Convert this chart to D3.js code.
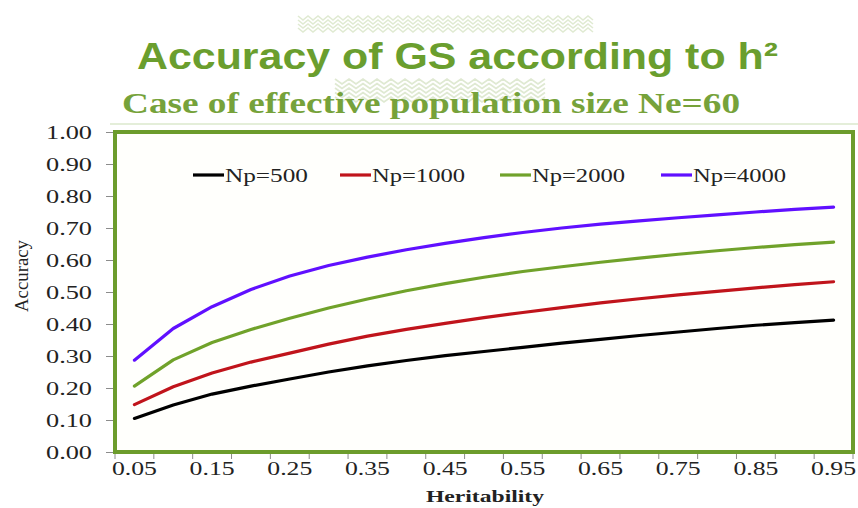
<!DOCTYPE html>
<html>
<head>
<meta charset="utf-8">
<script src="https://cdn.jsdelivr.net/npm/d3@7"></script>
<style>
  html, body { margin: 0; padding: 0; background: #ffffff; }
  svg { display: block; }
</style>
</head>
<body>
<svg id="chart" width="858" height="508"></svg>
<script>
// Heritability categories along the x axis
const heritability = ["0.05","0.10","0.15","0.20","0.25","0.30","0.35","0.40","0.45","0.50",
                      "0.55","0.60","0.65","0.70","0.75","0.80","0.85","0.90","0.95"];

// Accuracy of genomic selection per reference population size
const np500  = [0.105,0.147,0.181,0.206,0.228,0.250,0.269,0.286,0.301,0.314,0.327,0.340,0.352,0.364,0.375,0.386,0.396,0.404,0.412];
const np1000 = [0.148,0.204,0.247,0.281,0.309,0.337,0.362,0.383,0.402,0.420,0.436,0.451,0.466,0.479,0.491,0.502,0.513,0.523,0.532];
const np2000 = [0.206,0.288,0.342,0.383,0.418,0.450,0.478,0.504,0.526,0.546,0.564,0.579,0.593,0.606,0.618,0.629,0.639,0.648,0.656];
const np4000 = [0.287,0.386,0.454,0.508,0.550,0.583,0.609,0.632,0.652,0.670,0.686,0.700,0.712,0.722,0.732,0.741,0.750,0.758,0.765];

const seriesNames = ["Np=500","Np=1000","Np=2000","Np=4000"];
const yTicks = [0,0.1,0.2,0.3,0.4,0.5,0.6,0.7,0.8,0.9,1.0];

const seriesColors = ["#000000","#c0141b","#70a22a","#6010ff"];
const series = [np500, np1000, np2000, np4000].map((values, k) => ({
  name: seriesNames[k], color: seriesColors[k], values
}));

const svg = d3.select("#chart");
const green = "#6c9c2c";
const serif = "'Liberation Serif','Times New Roman',serif";
const sans = "'Liberation Sans',Arial,sans-serif";

const plot = { left: 115, right: 853, top: 132, bottom: 452 };

const x = d3.scaleBand().domain(heritability).range([plot.left, plot.right]).padding(0);
const y = d3.scaleLinear().domain([0, 1]).range([plot.bottom, plot.top]);

// --- decorative zigzag bands behind the headings ---
function zigzagBand(x0, x1, y0, rows, rowGap, amp, step, color, width) {
  const g = svg.append("g").attr("stroke", color).attr("fill", "none").attr("stroke-width", width);
  for (let r = 0; r < rows; r++) {
    const pts = [];
    let up = true;
    for (let px = x0; px <= x1; px += step / 2) {
      pts.push([px, y0 + r * rowGap + (up ? 0 : amp)]);
      up = !up;
    }
    g.append("path").attr("d", d3.line()(pts));
  }
}
zigzagBand(298, 595, 16, 4, 4, 4, 10, "#e0ead2", 1.6);
zigzagBand(335, 545, 79, 5, 4.5, 5, 14, "#dfe9d2", 1.8);

// --- headings ---
svg.append("text")
  .attr("x", 137).attr("y", 69)
  .attr("font-family", sans).attr("font-weight", "bold").attr("font-size", 37)
  .attr("fill", "#6a9e2e")
  .attr("textLength", 641).attr("lengthAdjust", "spacingAndGlyphs")
  .text("Accuracy of GS according to h²");

svg.append("text")
  .attr("x", 122).attr("y", 113)
  .attr("font-family", serif).attr("font-weight", "bold").attr("font-size", 30)
  .attr("fill", "#76a23a")
  .attr("textLength", 618).attr("lengthAdjust", "spacingAndGlyphs")
  .text("Case of effective population size Ne=60");

svg.append("line")
  .attr("x1", 110).attr("x2", 858).attr("y1", 124).attr("y2", 124)
  .attr("stroke", "#dbe9cc").attr("stroke-width", 1.5);

// --- plot frame ---
svg.append("rect")
  .attr("x", plot.left).attr("y", plot.top)
  .attr("width", plot.right - plot.left).attr("height", plot.bottom - plot.top)
  .attr("fill", "#fffffc");

// --- y axis ---
const yAxis = svg.append("g")
  .attr("transform", `translate(${plot.left},0)`)
  .call(d3.axisLeft(y).tickValues(yTicks).tickFormat(d3.format(".2f")).tickSize(9).tickSizeOuter(0).tickPadding(14));
yAxis.select(".domain").remove();
yAxis.selectAll(".tick line").attr("stroke", "#8c8c8c");
yAxis.selectAll(".tick text")
  .attr("font-family", serif).attr("font-size", 19).attr("fill", "#222")
  .attr("dy", "0.34em")
  .attr("textLength", 46).attr("lengthAdjust", "spacingAndGlyphs");

// --- x axis: ticks on category boundaries, labels every other category ---
const xAxis = svg.append("g").attr("transform", `translate(0,${plot.bottom})`);
const bounds = heritability.map(d => x(d)).concat([plot.right]);
xAxis.selectAll("line.bound").data(bounds).join("line")
  .attr("class", "bound")
  .attr("x1", d => d).attr("x2", d => d).attr("y1", 0).attr("y2", 7)
  .attr("stroke", "#8c8c8c");
xAxis.selectAll("text").data(heritability.filter((d, i) => i % 2 === 0)).join("text")
  .attr("x", d => x(d) + x.bandwidth() / 2).attr("y", 23)
  .attr("text-anchor", "middle")
  .attr("font-family", serif).attr("font-size", 19).attr("fill", "#222")
  .attr("textLength", 45).attr("lengthAdjust", "spacingAndGlyphs")
  .text(d => d);

// axis titles
svg.append("text")
  .attr("x", 485).attr("y", 502).attr("text-anchor", "middle")
  .attr("font-family", serif).attr("font-weight", "bold").attr("font-size", 17).attr("fill", "#222")
  .attr("textLength", 118).attr("lengthAdjust", "spacingAndGlyphs")
  .text("Heritability");

svg.append("text")
  .attr("transform", "translate(28,276) rotate(-90)")
  .attr("text-anchor", "middle")
  .attr("font-family", serif).attr("font-size", 18).attr("fill", "#222")
  .attr("textLength", 72).attr("lengthAdjust", "spacingAndGlyphs")
  .text("Accuracy");

// --- series lines ---
const line = d3.line()
  .x((d, i) => x(heritability[i]) + x.bandwidth() / 2)
  .y(d => y(d))
  .curve(d3.curveLinear);

svg.append("g").selectAll("path").data(series).join("path")
  .attr("d", s => line(s.values))
  .attr("fill", "none")
  .attr("stroke", s => s.color)
  .attr("stroke-width", 3.2)
  .attr("stroke-linejoin", "round")
  .attr("stroke-linecap", "round");

// frame border drawn over the plot area
svg.append("rect")
  .attr("x", plot.left).attr("y", plot.top)
  .attr("width", plot.right - plot.left).attr("height", plot.bottom - plot.top)
  .attr("fill", "none").attr("stroke", green).attr("stroke-width", 4);

// --- legend ---
const legendX = [193, 340, 500, 661];
const legend = svg.append("g").selectAll("g").data(series).join("g")
  .attr("transform", (d, i) => `translate(${legendX[i]},175)`);
legend.append("line")
  .attr("x1", 0).attr("x2", 31).attr("y1", 0).attr("y2", 0)
  .attr("stroke", d => d.color).attr("stroke-width", 3.2);
legend.append("text")
  .attr("x", 32).attr("y", 6.5)
  .attr("font-family", serif).attr("font-size", 19).attr("fill", "#222")
  .attr("textLength", d => d.name.length === 6 ? 83 : 93)
  .attr("lengthAdjust", "spacingAndGlyphs")
  .text(d => d.name);
</script>
</body>
</html>
